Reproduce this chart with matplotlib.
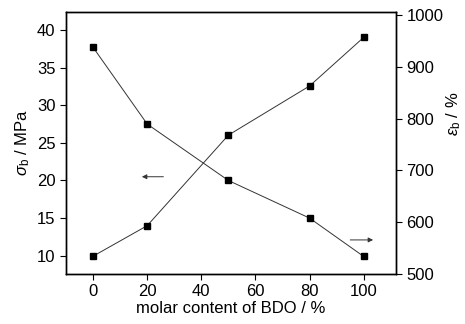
import matplotlib
matplotlib.use("Agg")
import matplotlib.pyplot as plt

# data
bdo = [0, 20, 50, 80, 100]
sigma_b = [37.7, 27.5, 20.0, 15.0, 9.9]      # MPa, left axis
eps_b = [534, 593, 768, 863, 957]            # %, right axis

plt.rcParams['font.family'] = ['Liberation Sans', 'DejaVu Sans']
plt.rcParams['mathtext.fontset'] = 'custom'
plt.rcParams['mathtext.rm'] = 'Liberation Sans'
plt.rcParams['mathtext.it'] = 'Liberation Sans:italic'

fig, ax = plt.subplots(figsize=(4.65, 3.24), dpi=100)
fig.subplots_adjust(left=0.142, right=0.852, top=0.963, bottom=0.155)

ax.plot(bdo, sigma_b, color='#333333', lw=0.7, marker='s', ms=4.5,
        mfc='black', mec='black')
ax.set_xlim(-10, 112)
ax.set_ylim(7.6, 42.4)
ax.set_xticks([0, 20, 40, 60, 80, 100])
ax.set_yticks([10, 15, 20, 25, 30, 35, 40])
ax.set_xlabel('molar content of BDO / %', fontsize=12, labelpad=1)
ax.set_ylabel(r'$\sigma_\mathrm{b}$ / MPa', fontsize=12)
ax.yaxis.set_label_coords(-0.103, 0.5)
ax.tick_params(labelsize=12, direction='out', length=4, width=0.8)

ax2 = ax.twinx()
ax2.plot(bdo, eps_b, color='#333333', lw=0.7, marker='s', ms=4.5,
         mfc='black', mec='black')
ax2.set_ylim(500, 1006)
ax2.set_yticks([500, 600, 700, 800, 900, 1000])
ax2.set_ylabel(r'$\mathit{\varepsilon}_\mathrm{b}$ / %', fontsize=12, rotation=90)
ax2.yaxis.set_label_coords(1.145, 0.61)
ax2.tick_params(labelsize=12, direction='out', length=4, width=0.8)

for a in (ax, ax2):
    for s in a.spines.values():
        s.set_linewidth(1.0)

# direction arrows
ax.annotate('', xy=(17, 20.5), xytext=(27, 20.5),
            arrowprops=dict(arrowstyle='-|>', color='#333333', lw=0.7,
                            mutation_scale=7))
ax.annotate('', xy=(104.5, 12.1), xytext=(94, 12.1),
            arrowprops=dict(arrowstyle='-|>', color='#333333', lw=0.7,
                            mutation_scale=7))

fig.savefig('out.png', dpi=100)
